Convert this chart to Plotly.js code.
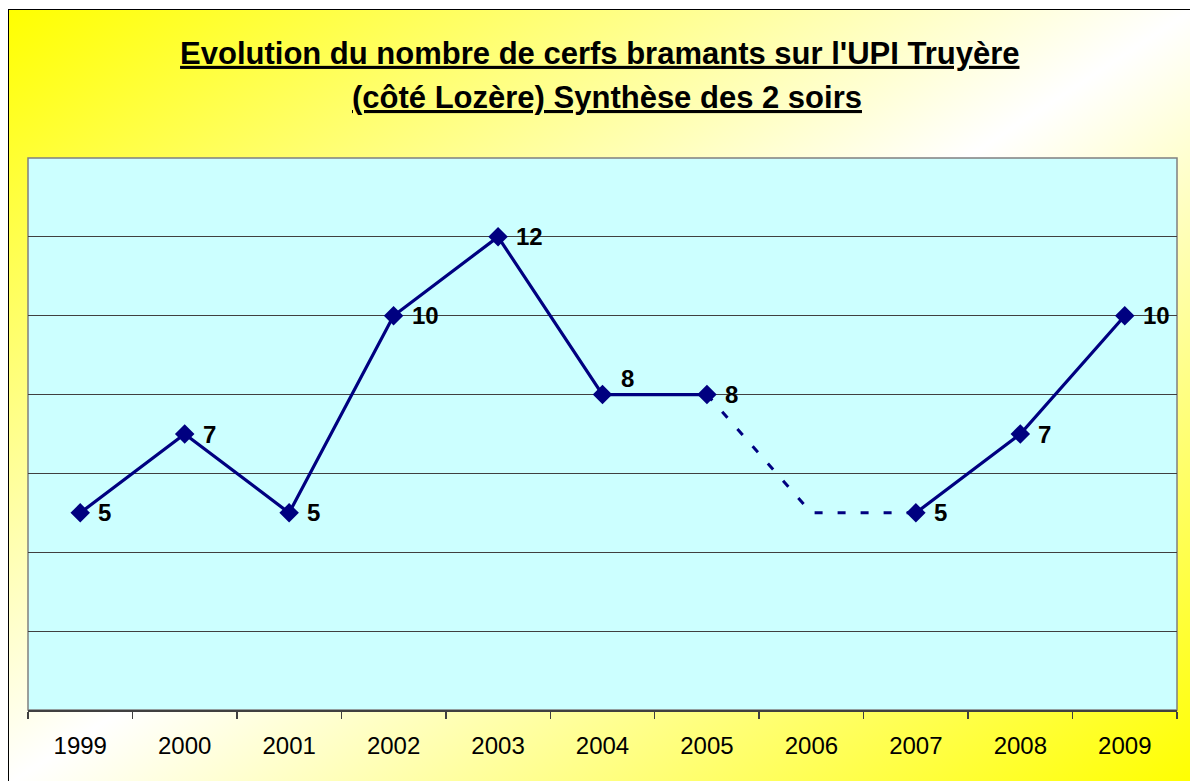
<!DOCTYPE html>
<html><head><meta charset="utf-8">
<script src="https://cdn.plot.ly/plotly-3.0.1.min.js"></script>
<style>
html,body{margin:0;padding:0;width:1190px;height:781px;overflow:hidden;background:#fff;}
#frame{position:absolute;left:8px;top:9px;width:1184px;height:774px;border:1.5px solid #000;
  background:linear-gradient(to bottom right,#FFFF00 0%,#FFFFFF 50%,#FFFF00 100%);}
#chart{position:absolute;left:0;top:0;width:1190px;height:781px;}
</style></head>
<body><div id="frame"></div><div id="chart"></div>
<script>
// Data
const years = ['1999','2000','2001','2002','2003','2004','2005','2006','2007','2008','2009'];
const counts = [5, 7, 5, 10, 12, 8, 8, null, 5, 7, 10];
// 2006: no count, drawn as a dashed link
const gapYears = ['2005','2006','2007'];
const gapCounts = [8, 5, 5];
const titleLines = ["Evolution du nombre de cerfs bramants sur l'UPI Truyère", "(côté Lozère) Synthèse des 2 soirs"];

const navy = '#000080';
const font = 'Arial, "Liberation Sans", sans-serif';
const plotTop = 158, plotBottom = 710;
const raisedLabelYear = '2004'; // its label sits above the line in the original

const traces = [
  {
    x: gapYears, y: gapCounts, type: 'scatter', mode: 'lines',
    line: {color: navy, width: 3, dash: '8px,15px'},
    hoverinfo: 'skip', showlegend: false
  },
  {
    x: years, y: counts, type: 'scatter', mode: 'lines+markers',
    connectgaps: false,
    line: {color: navy, width: 3.2},
    marker: {symbol: 'diamond', size: 15, color: navy},
    showlegend: false
  }
];

// category axis annotations are positioned by category index
const valueLabels = years.map((yr, i) => counts[i] === null ? null : ({
  x: i, y: counts[i], xref: 'x', yref: 'y', text: String(counts[i]),
  showarrow: false, xanchor: 'left', yanchor: 'middle', xshift: 16,
  yshift: yr === raisedLabelYear ? 16 : 0,
  font: {family: font, size: 24, color: '#000', weight: 'bold'}
})).filter(a => a);

const layout = {
  width: 1190, height: 781,
  margin: {l: 28, r: 13, t: plotTop, b: 781 - plotBottom, pad: 0},
  paper_bgcolor: 'rgba(0,0,0,0)',
  plot_bgcolor: '#CCFFFF',
  title: {
    text: '<u>' + titleLines[0] + '</u>',
    font: {family: font, size: 31, color: '#000', weight: 'bold'},
    x: 0.504, xanchor: 'center',
    y: 1 - 53/781, yref: 'container', yanchor: 'middle'
  },
  xaxis: {
    type: 'category', categoryorder: 'array', categoryarray: years, range: [-0.5, 10.5],
    tickson: 'boundaries', ticks: 'outside', ticklen: 7, tickwidth: 1.5, tickcolor: '#404040',
    ticklabelstandoff: 13,
    showline: true, linecolor: '#404040', linewidth: 2,
    showgrid: false, zeroline: false,
    tickfont: {family: font, size: 24, color: '#000'},
    fixedrange: true
  },
  yaxis: {
    range: [0, 14], dtick: 2, showticklabels: false,
    showgrid: true, gridcolor: '#404040', gridwidth: 1,
    zeroline: false, showline: false, ticks: '',
    fixedrange: true
  },
  annotations: [
    {
      xref: 'paper', yref: 'paper', x: 0.504, xanchor: 'center',
      y: 1 + (plotTop - 97) / (plotBottom - plotTop), yanchor: 'middle',
      text: '<u>' + titleLines[1] + '</u>', showarrow: false,
      font: {family: font, size: 31, color: '#000', weight: 'bold'}
    }
  ].concat(valueLabels),
  shapes: [{
    type: 'rect', xref: 'paper', yref: 'paper', x0: 0, x1: 1, y0: 0, y1: 1,
    line: {color: '#808080', width: 1.5}, layer: 'below'
  }]
};

Plotly.newPlot('chart', traces, layout, {displayModeBar: false, staticPlot: true});
</script>
</body></html>
